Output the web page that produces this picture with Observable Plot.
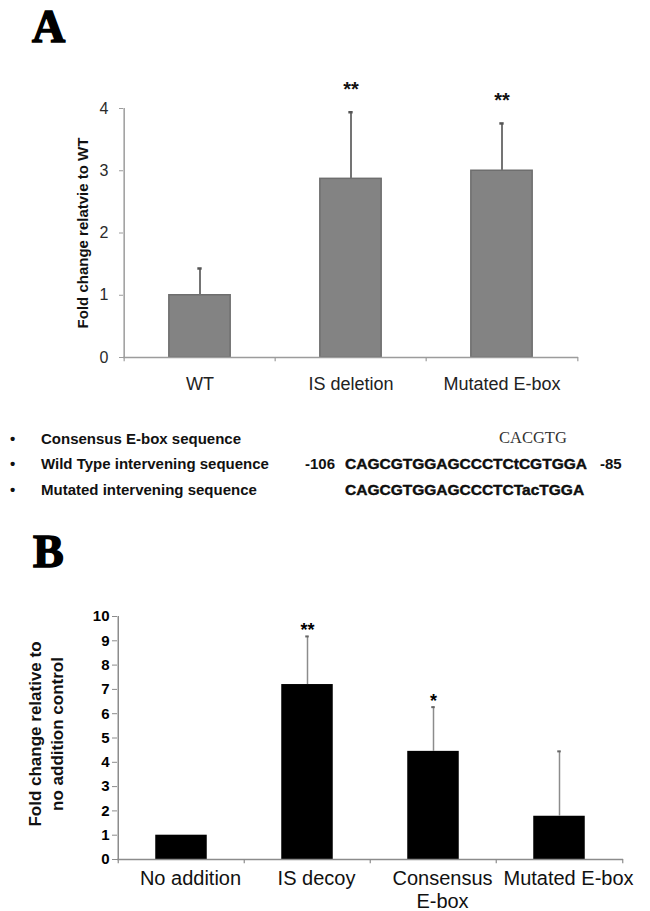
<!DOCTYPE html>
<html>
<head>
<meta charset="utf-8">
<script src="https://cdn.jsdelivr.net/npm/d3@7"></script>
<script src="https://cdn.jsdelivr.net/npm/@observablehq/plot@0.6"></script>
<style>
  html, body { margin: 0; padding: 0; background: #fff; overflow: hidden; }
  #fig { position: relative; width: 650px; height: 911px; overflow: hidden; }
  #fig svg { position: absolute; left: 0; }
  .abs { position: absolute; white-space: pre; line-height: 1; color: #111; }
  .panel { font-family: "Liberation Serif", "Times New Roman", serif; font-weight: bold; font-size: 46px; -webkit-text-stroke: 1.5px #000; color: #000; }
  .lbl { font-family: "Liberation Sans", Arial, sans-serif; font-weight: bold; font-size: 15px; }
  .seq { font-family: "Liberation Sans", Arial, sans-serif; font-weight: bold; font-size: 15.5px; -webkit-text-stroke: 0.4px #000; }
  .cons { font-family: "Liberation Serif", "Times New Roman", serif; font-size: 16.5px; color: #333; }
</style>
</head>
<body>
<div id="fig"></div>
<script>
// ---------- Panel A data ----------
const catsA = ["WT", "IS deletion", "Mutated E-box"];
const meanA = [1.0, 2.87, 3.0];
const errA = [0.43, 1.07, 0.76];
const starsA = ["", "**", "**"];
const ticksA = [0, 1, 2, 3, 4];
const yLabelA = "Fold change relatvie to WT";

// ---------- Sequence block ----------
const seqLabels = ["Consensus E-box sequence", "Wild Type intervening sequence", "Mutated intervening sequence"];
const consensusSeq = "CACGTG";
const wtSeq = "CAGCGTGGAGCCCTCtCGTGGA";
const wtStart = "-106";
const wtEnd = "-85";
const mutSeq = "CAGCGTGGAGCCCTCTacTGGA";

// ---------- Panel B data ----------
const catsB = ["No addition", "IS decoy", "Consensus E-box", "Mutated E-box"];
const labelsB = ["No addition", "IS decoy", "Consensus\nE-box", "Mutated E-box"];
const meanB = [1.0, 7.2, 4.45, 1.78];
const errB = [0, 1.98, 1.82, 2.67];
const starsB = ["", "**", "*", ""];
const ticksB = [0, 1, 2, 3, 4, 5, 6, 7, 8, 9, 10];
const yLabelB = "Fold change relative to\nno addition control";

const fig = document.getElementById("fig");
const sans = "'Liberation Sans', Arial, sans-serif";

// ---------- Panel A plot ----------
const dataA = catsA.map((c, i) => ({cat: c, mean: meanA[i], top: meanA[i] + errA[i], star: starsA[i]}));
const A = {width: 650, height: 400, mt: 108, mb: 43, ml: 123, mr: 72};
const stepA = (A.width - A.ml - A.mr) / catsA.length;
const plotA = Plot.plot({
  width: A.width, height: A.height,
  marginTop: A.mt, marginBottom: A.mb, marginLeft: A.ml, marginRight: A.mr,
  x: {domain: catsA, padding: 0, label: null},
  y: {domain: [0, 4], label: null},
  style: {background: "transparent", fontFamily: sans, overflow: "visible"},
  marks: [
    Plot.barY(dataA, {x: "cat", y: "mean", fill: "#838383", stroke: "#6e6e6e", strokeWidth: 1.5,
      insetLeft: (stepA - 62) / 2, insetRight: (stepA - 62) / 2}),
    Plot.ruleX(dataA, {x: "cat", y1: "mean", y2: "top", stroke: "#747474", strokeWidth: 2}),
    Plot.tickY(dataA, {x: "cat", y: "top", stroke: "#555", strokeWidth: 2.5,
      insetLeft: (stepA - 5) / 2, insetRight: (stepA - 5) / 2}),
    Plot.text(dataA, {x: "cat", y: "top", text: "star", dy: -23, fontSize: 20, fontWeight: "bold", fill: "#111"}),
    Plot.ruleY([0], {stroke: "#9c9c9c", strokeWidth: 1.5}),
    Plot.ruleX([catsA[0]], {x: d => d, dx: -stepA / 2, y1: 0, y2: 4, stroke: "#9c9c9c", strokeWidth: 1.5}),
    Plot.ruleX(catsA, {x: d => d, dx: -stepA / 2, y1: 0, y2: -0.07, stroke: "#9c9c9c", strokeWidth: 1.2}),
    Plot.ruleX([catsA[catsA.length - 1]], {x: d => d, dx: stepA / 2, y1: 0, y2: -0.07, stroke: "#9c9c9c", strokeWidth: 1.2}),
    Plot.axisY({ticks: ticksA, tickFormat: d => String(d), tickSize: 4, tickPadding: 11, fontSize: 16, stroke: "#9c9c9c", fill: "#2a2a2a"}),
    Plot.axisX({tickSize: 0, tickPadding: 20, fontSize: 18, fill: "#222"}),
    Plot.text([yLabelA], {text: d => d, frameAnchor: "left", textAnchor: "middle", rotate: -90, dx: -40, fontSize: 15, fontWeight: "bold", fill: "#111"})
  ]
});
plotA.style.top = "0px";
fig.appendChild(plotA);

// ---------- Panel B plot ----------
const dataB = catsB.map((c, i) => ({cat: c, mean: meanB[i], top: meanB[i] + errB[i], err: errB[i], star: starsB[i]}));
const B = {top: 530, width: 650, height: 381, mt: 86, mb: 52, ml: 117, mr: 27};
const stepB = (B.width - B.ml - B.mr) / catsB.length;
const withErr = dataB.filter(d => d.err > 0);
const plotB = Plot.plot({
  width: B.width, height: B.height,
  marginTop: B.mt, marginBottom: B.mb, marginLeft: B.ml, marginRight: B.mr,
  x: {domain: catsB, padding: 0, label: null},
  y: {domain: [0, 10], label: null},
  style: {background: "transparent", fontFamily: sans, overflow: "visible"},
  marks: [
    Plot.barY(dataB, {x: "cat", y: "mean", fill: "#000", insetLeft: (stepB - 52) / 2, insetRight: (stepB - 52) / 2}),
    Plot.ruleX(withErr, {x: "cat", y1: "mean", y2: "top", stroke: "#8c8c8c", strokeWidth: 1.5}),
    Plot.tickY(withErr, {x: "cat", y: "top", stroke: "#666", strokeWidth: 2,
      insetLeft: (stepB - 4) / 2, insetRight: (stepB - 4) / 2}),
    Plot.text(dataB, {x: "cat", y: "top", text: "star", dy: -6, fontSize: 18, fontWeight: "bold", fill: "#000"}),
    Plot.ruleY([0], {stroke: "#8c8c8c", strokeWidth: 1.5}),
    Plot.ruleX([catsB[0]], {x: d => d, dx: -stepB / 2, y1: 0, y2: 10, stroke: "#8c8c8c", strokeWidth: 1.5}),
    Plot.ruleX(catsB, {x: d => d, dx: -stepB / 2, y1: 0, y2: -0.17, stroke: "#8c8c8c", strokeWidth: 1.2}),
    Plot.ruleX([catsB[catsB.length - 1]], {x: d => d, dx: stepB / 2, y1: 0, y2: -0.17, stroke: "#8c8c8c", strokeWidth: 1.2}),
    Plot.axisY({ticks: ticksB, tickFormat: d => String(d), tickSize: 5, tickPadding: 3, fontSize: 15, fontWeight: "bold", stroke: "#8c8c8c", fill: "#000"}),
    Plot.axisX({tickSize: 0, tickPadding: 9, fontSize: 20, dx: 9, lineHeight: 1.15, fill: "#111",
      tickFormat: d => labelsB[catsB.indexOf(d)]}),
    Plot.text([yLabelB], {text: d => d, frameAnchor: "left", textAnchor: "middle", rotate: -90, dx: -73, dy: -4, fontSize: 17, lineHeight: 1.3, fontWeight: "bold", fill: "#111"})
  ]
});
plotB.style.top = B.top + "px";
fig.appendChild(plotB);

// ---------- HTML text: panel letters and sequence block ----------
function addText(txt, cls, left, top) {
  const d = document.createElement("div");
  d.className = "abs " + cls;
  d.textContent = txt;
  d.style.left = left + "px";
  d.style.top = top + "px";
  fig.appendChild(d);
  return d;
}
addText("A", "panel", 32, 4);
addText("B", "panel", 33, 529);

const rowY = [438, 463, 489];
rowY.forEach((y, i) => {
  addText("•", "lbl", 10, y - 7);
  addText(seqLabels[i], "lbl", 41, y - 7);
});
addText(consensusSeq, "cons", 499, rowY[0] - 8);
addText(wtStart, "lbl", 305, rowY[1] - 7);
addText(wtSeq, "seq", 345, rowY[1] - 7);
addText(wtEnd, "lbl", 600, rowY[1] - 7);
addText(mutSeq, "seq", 345, rowY[2] - 7);
</script>
</body>
</html>
